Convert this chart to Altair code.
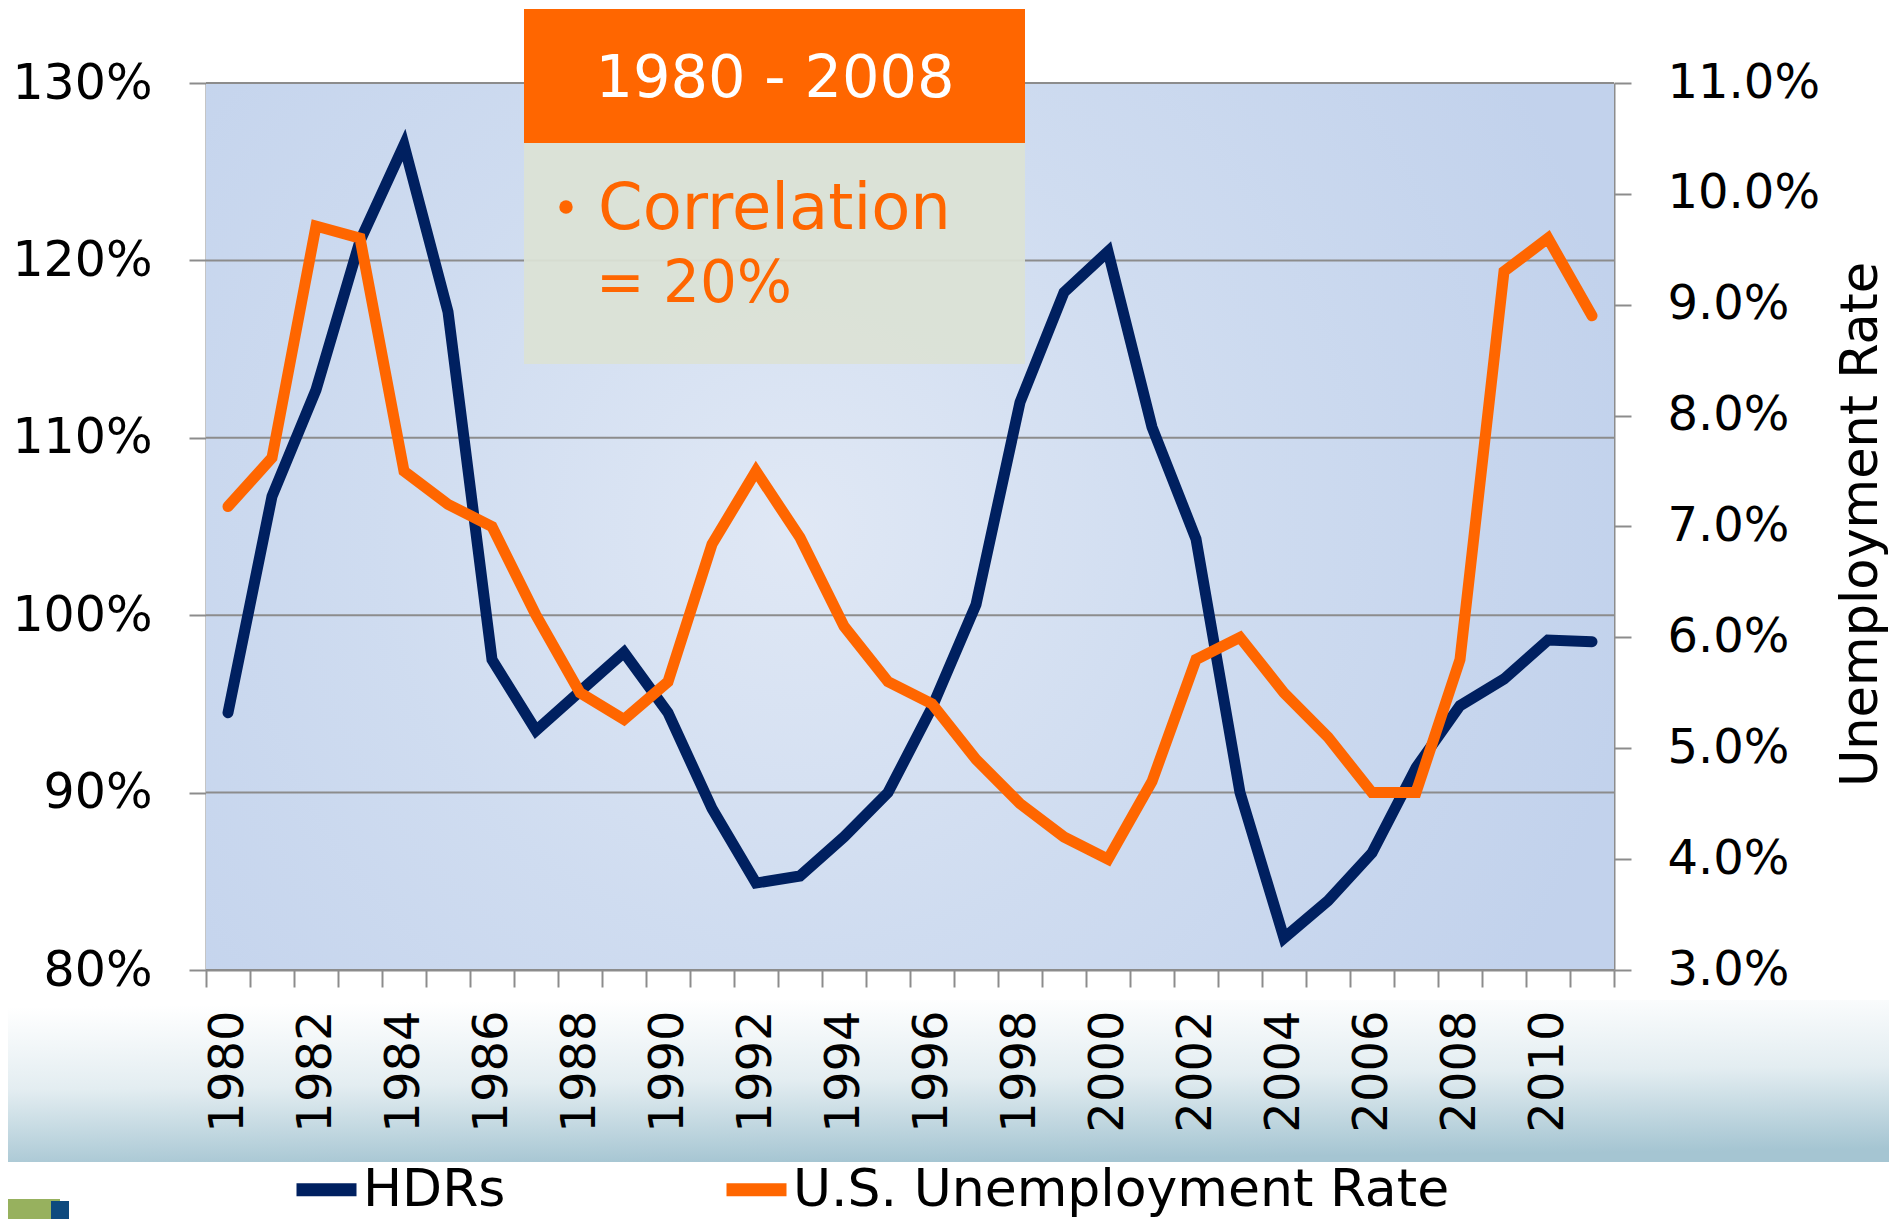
import altair as alt
import pandas as pd

# ---------------- data ----------------
years = list(range(1980, 2012))
hdrs_pct = [94.5, 106.7, 112.7, 121.1, 126.5, 117.1, 97.5, 93.5, 95.7, 97.9,
            94.5, 89.1, 84.9, 85.3, 87.5, 90.0, 94.8, 100.6, 112.0, 118.2,
            120.5, 110.6, 104.3, 90.0, 81.8, 83.9, 86.6, 91.4, 94.9, 96.4,
            98.6, 98.5]
unemp_pct = [7.18, 7.62, 9.71, 9.6, 7.5, 7.2, 7.0, 6.2, 5.5, 5.26,
             5.6, 6.84, 7.5, 6.9, 6.1, 5.6, 5.4, 4.9, 4.5, 4.2,
             4.0, 4.7, 5.8, 6.0, 5.5, 5.1, 4.6, 4.6, 5.8, 9.3,
             9.6, 8.9]
series_names = ["HDRs", "U.S. Unemployment Rate"]
series_colors = ["#002060", "#FF6600"]
left_ticks = [0.8, 0.9, 1.0, 1.1, 1.2, 1.3]
right_ticks = [0.03, 0.04, 0.05, 0.06, 0.07, 0.08, 0.09, 0.10, 0.11]
label_years = list(range(1980, 2012, 2))
tick_bounds = [y - 0.5 for y in range(1980, 2013)]
box_title = "1980 - 2008"
box_line1 = "Correlation"
box_line2 = "= 20%"
right_title = "Unemployment Rate"

df = pd.DataFrame({
    "year": years + years,
    "series": [series_names[0]] * len(years) + [series_names[1]] * len(years),
    "value": [v / 100 for v in hdrs_pct] + [v / 100 for v in unemp_pct],
})
grid_df = pd.DataFrame({"value": left_ticks})
one = pd.DataFrame({"k": [0]})

FONT = "DejaVu Sans"
GRID = "#8C8C8C"
W, H = 1408, 887

x_scale = alt.Scale(domain=[1979.5, 2011.5], nice=False, zero=False)
left_scale = alt.Scale(domain=[0.8, 1.3], nice=False, zero=False)
right_scale = alt.Scale(domain=[0.03, 0.11], nice=False, zero=False)
color_scale = alt.Scale(domain=series_names, range=series_colors)
legend = alt.Legend(
    title=None, orient="none", legendX=84, legendY=1070, direction="horizontal",
    symbolType="stroke", symbolSize=3600, symbolStrokeWidth=13,
    labelFont=FONT, labelFontSize=52, labelColor="black", labelOffset=0,
    labelLimit=1000, columnPadding=194, padding=0,
)

label_axis = alt.Axis(
    orient="bottom", values=label_years, format="d", labelAngle=270,
    ticks=False, tickSize=0, domain=False, grid=False, labelPadding=40,
    labelFont=FONT, labelFontSize=48, labelColor="black", labelFlush=False,
    labelOverlap=False, title=None, zindex=1,
)
tick_axis = alt.Axis(
    orient="bottom", values=tick_bounds, labels=False, ticks=True, tickSize=17,
    tickWidth=2, tickColor=GRID, domain=True, domainColor=GRID, domainWidth=2,
    grid=False, title=None,
)
left_axis = alt.Axis(
    orient="left", values=left_ticks, format=".0%", grid=False,
    domain=True, domainColor=GRID, domainWidth=2, ticks=True,
    tickSize=17, tickWidth=2, tickColor=GRID, labelPadding=37, labelFont=FONT,
    labelFontSize=49, labelColor="black", labelFlush=False, labelOverlap=False,
    title=None,
)
right_axis = alt.Axis(
    orient="right", values=right_ticks, format=".1%", grid=False,
    domain=True, domainColor=GRID, domainWidth=2, ticks=True, tickSize=17,
    tickWidth=2, tickColor=GRID, labelPadding=36, labelFont=FONT,
    labelFontSize=48, labelColor="black", labelFlush=False, labelOverlap=False,
    title=right_title, titleFont=FONT, titleFontSize=51, titleFontWeight="normal",
    titleColor="black", titleAngle=270, titleX=247, titleY=441,
    titleAlign="center", titleBaseline="middle",
)

# ---------------- backgrounds ----------------
plot_bg = alt.Chart(one).mark_rect(
    fill=alt.RadialGradient(
        gradient="radial", x1=0.42, y1=0.5, r1=0, x2=0.42, y2=0.5, r2=0.6,
        stops=[alt.GradientStop(color="#E0E8F5", offset=0),
               alt.GradientStop(color="#CFDCF0", offset=0.5),
               alt.GradientStop(color="#C2D2EC", offset=1)])
).encode(x=alt.value(0), x2=alt.value(W), y=alt.value(0), y2=alt.value(H))

band = alt.Chart(one).mark_rect(
    fill=alt.LinearGradient(
        gradient="linear", x1=0.3, y1=0, x2=0.45, y2=1,
        stops=[alt.GradientStop(color="#FFFFFF", offset=0),
               alt.GradientStop(color="#E3EDF1", offset=0.5),
               alt.GradientStop(color="#A5C5D2", offset=1)])
).encode(x=alt.value(-198), x2=alt.value(1683), y=alt.value(917), y2=alt.value(1079))

# ---------------- series ----------------
grid = alt.Chart(grid_df).mark_rule(color=GRID, strokeWidth=2).encode(
    y=alt.Y("value:Q", scale=left_scale, axis=left_axis))
hdr = alt.Chart(df).transform_filter(alt.datum.series == series_names[0]).mark_line(
    strokeWidth=11, strokeCap="round"
).encode(
    x=alt.X("year:Q", scale=x_scale, axis=label_axis),
    y=alt.Y("value:Q", scale=left_scale, axis=left_axis),
    color=alt.Color("series:N", scale=color_scale, legend=legend),
)
left_group = alt.layer(grid, hdr)

unemp = alt.Chart(df).transform_filter(alt.datum.series == series_names[1]).mark_line(
    strokeWidth=11, strokeCap="round"
).encode(
    x=alt.X("year:Q", scale=x_scale, axis=tick_axis),
    y=alt.Y("value:Q", scale=right_scale, axis=right_axis),
    color=alt.Color("series:N", scale=color_scale, legend=legend),
)

# ---------------- annotation box ----------------
box_head = alt.Chart(one).mark_rect(fill="#FF6600").encode(
    x=alt.value(318), x2=alt.value(819), y=alt.value(-74), y2=alt.value(60))
box_body = alt.Chart(one).mark_rect(fill="#DCE2D5", opacity=0.93).encode(
    x=alt.value(318), x2=alt.value(819), y=alt.value(60), y2=alt.value(281))
t_title = alt.Chart(one).mark_text(
    font=FONT, fontSize=59, color="white", align="center", baseline="alphabetic"
).encode(x=alt.value(569), y=alt.value(14), text=alt.value(box_title))
bullet = alt.Chart(one).mark_circle(size=180, color="#FF6600", opacity=1).encode(
    x=alt.value(360), y=alt.value(124))
t_l1 = alt.Chart(one).mark_text(
    font=FONT, fontSize=64, color="#FF6600", align="left", baseline="alphabetic"
).encode(x=alt.value(392), y=alt.value(146), text=alt.value(box_line1))
t_l2 = alt.Chart(one).mark_text(
    font=FONT, fontSize=58, color="#FF6600", align="left", baseline="alphabetic"
).encode(x=alt.value(390), y=alt.value(219), text=alt.value(box_line2))

# ---------------- logo fragment ----------------
logo_g = alt.Chart(one).mark_rect(fill="#97B15E").encode(
    x=alt.value(-198), x2=alt.value(-146), y=alt.value(1116), y2=alt.value(1140))
logo_b = alt.Chart(one).mark_rect(fill="#0E4A7E").encode(
    x=alt.value(-155), x2=alt.value(-137), y=alt.value(1118), y2=alt.value(1136))

chart = alt.layer(
    plot_bg, band, left_group, unemp, box_head, box_body, t_title, bullet,
    t_l1, t_l2, logo_g, logo_b
).resolve_scale(y="independent").resolve_axis(x="independent", y="independent").properties(
    width=W, height=H,
    autosize=alt.AutoSizeParams(type="none"),
    padding={"left": 198, "top": 75, "right": 275, "bottom": 249},
    background="white",
).configure_view(stroke=None)

chart.save("out.html", embed_options={"renderer": "svg", "actions": False})
